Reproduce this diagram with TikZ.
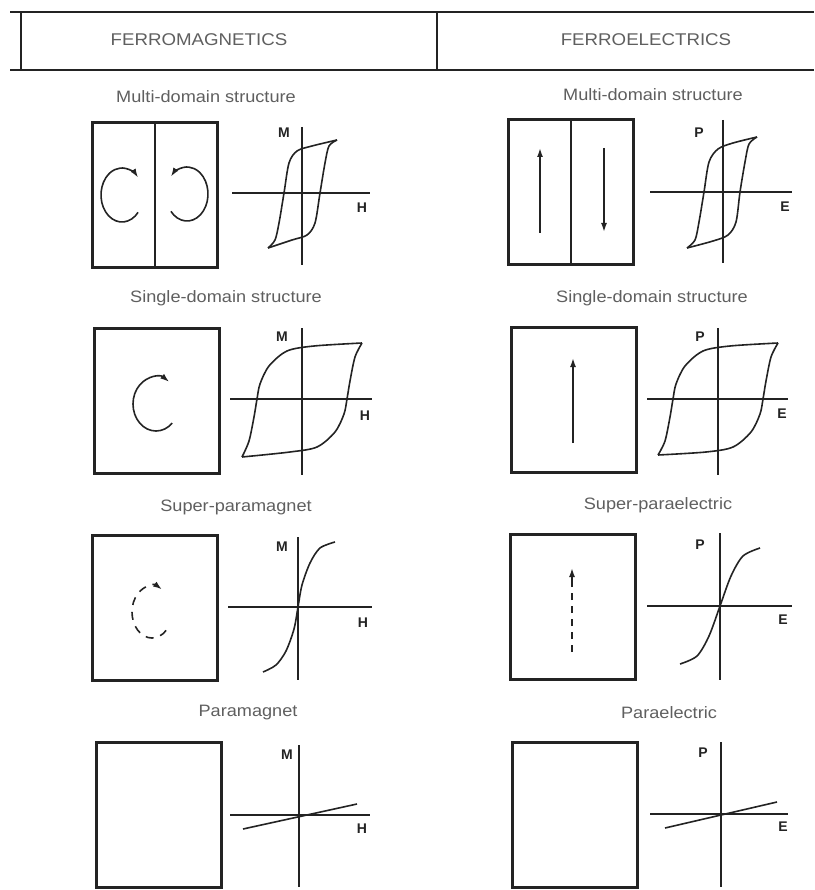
\documentclass[tikz,border=0pt]{standalone}
\usepackage{fontspec}
\setmainfont{Liberation Sans}
\newfontfamily\widefont[FakeStretch=1.1]{Liberation Sans}
\usetikzlibrary{arrows.meta, calc}
\definecolor{tinta}{RGB}{35, 35, 35}
\definecolor{grafite}{RGB}{95, 95, 95}

\begin{document}
\begin{tikzpicture}[
    x=1pt,
    y=-1pt,
    header/.style={
        font=\widefont\fontsize{17}{20}\selectfont,
        text=grafite
    },
    paneltitle/.style={
        font=\widefont\fontsize{16.5}{20}\selectfont,
        text=grafite
    },
    samplebox/.style={
        draw=tinta,
        line width=2.2pt,
        minimum width=125pt,
        minimum height=145pt,
        inner sep=0pt
    },
    axisline/.style={
        draw=tinta,
        line width=1.9pt
    },
    loopline/.style={
        draw=tinta,
        line width=1.6pt
    },
    axlabel/.style={
        font=\bfseries\fontsize{14}{16}\selectfont,
        text=tinta,
        inner sep=0pt
    },
    moment/.style={
        draw=tinta,
        line width=1.6pt,
        -{Latex[length=9pt, width=6pt]}
    },
    rule/.style={
        draw=tinta,
        line width=2.2pt
    }
]

\useasboundingbox (0,0) rectangle (814,890);

% =================================================
% CABECALHO
% =================================================

\draw[rule] (10,12) -- (814,12);
\draw[rule] (10,70) -- (814,70);
\draw[rule] (21,12) -- (21,70);
\draw[rule] (437,12) -- (437,70);

\node[header] (fmhead) at (199,40) {FERROMAGNETICS};
\node[header] (fehead) at (646,40) {FERROELECTRICS};


% =================================================
% LINHA 1 - MULTI-DOMAIN
% =================================================

\node[paneltitle] (fmtitle1) at (206,97) {Multi-domain structure};
\node[paneltitle] (fetitle1) at (653,95) {Multi-domain structure};

\node[samplebox] (fmbox1) at (155,195) {};
\draw[rule, line width=1.9pt] (fmbox1.north) -- (fmbox1.south);

% Circulacoes
\draw[moment]
    ($(122,195)+(40:21 and 27)$)
    arc[start angle=40, end angle=320, x radius=21, y radius=27];
\draw[moment]
    ($(187,194)+(140:21 and 27)$)
    arc[start angle=140, end angle=-140, x radius=21, y radius=27];

\begin{scope}[shift={(302,193)}]
    \draw[axisline] (0,-66) -- (0,72);
    \draw[axisline] (-70,0) -- (68,0);
    \node[axlabel] (fmM1) at (-18,-60) {M};
    \node[axlabel] (fmH1) at (60,15) {H};
    \draw[loopline] plot[smooth] coordinates
        {(35,-53) (10,-47) (-5,-42) (-13,-30) (-18,0) (-23,30) (-27,47) (-34,55)};
    \draw[loopline] plot[smooth] coordinates
        {(-34,55) (-10,47) (5,42) (13,30) (18,0) (23,-30) (27,-47) (35,-53)};
\end{scope}

\node[samplebox] (febox1) at (571,192) {};
\draw[rule, line width=1.9pt] (febox1.north) -- (febox1.south);

\coordinate (pup1a) at (540,233);
\coordinate (pup1b) at (540,148);
\coordinate (pdn1a) at (604,148);
\coordinate (pdn1b) at (604,232);
\draw[moment] (pup1a) -- (pup1b);
\draw[moment] (pdn1a) -- (pdn1b);

\begin{scope}[shift={(723,192)}]
    \draw[axisline] (0,-72) -- (0,71);
    \draw[axisline] (-73,0) -- (69,0);
    \node[axlabel] (feP1) at (-24,-59) {P};
    \node[axlabel] (feE1) at (62,15) {E};
    \draw[loopline] plot[smooth] coordinates
        {(34,-55) (10,-49) (-5,-43) (-14,-30) (-19,0) (-24,30) (-28,48) (-36,56)};
    \draw[loopline] plot[smooth] coordinates
        {(-36,56) (-10,49) (5,43) (13,30) (17,0) (22,-30) (26,-48) (34,-55)};
\end{scope}


% =================================================
% LINHA 2 - SINGLE-DOMAIN
% =================================================

\node[paneltitle] (fmtitle2) at (226,298) {Single-domain structure};
\node[paneltitle] (fetitle2) at (652,298) {Single-domain structure};

\node[samplebox] (fmbox2) at (157,401) {};

\draw[moment]
    ($(156,404)+(45:23 and 27)$)
    arc[start angle=45, end angle=305, x radius=23, y radius=27];

\begin{scope}[shift={(302,399)}]
    \draw[axisline] (0,-71) -- (0,76);
    \draw[axisline] (-72,0) -- (70,0);
    \node[axlabel] (fmM2) at (-20,-62) {M};
    \node[axlabel] (fmH2) at (63,17) {H};
    \draw[loopline] plot[smooth] coordinates
        {(60,-56) (12,-53) (-15,-48) (-33,-33) (-42,-15) (-45,0) (-48,18) (-53,42) (-60,58)};
    \draw[loopline] plot[smooth] coordinates
        {(-60,58) (-12,53) (15,48) (33,33) (42,15) (45,0) (48,-18) (53,-42) (60,-56)};
\end{scope}

\node[samplebox] (febox2) at (574,400) {};

\coordinate (pup2a) at (573,443);
\coordinate (pup2b) at (573,358);
\draw[moment] (pup2a) -- (pup2b);

\begin{scope}[shift={(718,399)}]
    \draw[axisline] (0,-71) -- (0,76);
    \draw[axisline] (-71,0) -- (70,0);
    \node[axlabel] (feP2) at (-18,-62) {P};
    \node[axlabel] (feE2) at (64,15) {E};
    \draw[loopline] plot[smooth] coordinates
        {(60,-56) (12,-53) (-15,-48) (-33,-33) (-42,-15) (-45,0) (-48,18) (-53,42) (-60,56)};
    \draw[loopline] plot[smooth] coordinates
        {(-60,56) (-12,53) (15,48) (33,33) (42,15) (45,0) (48,-18) (53,-42) (60,-56)};
\end{scope}


% =================================================
% LINHA 3 - SUPER-PARA
% =================================================

\node[paneltitle] (fmtitle3) at (236,507) {Super-paramagnet};
\node[paneltitle] (fetitle3) at (658,505) {Super-paraelectric};

\node[samplebox] (fmbox3) at (155,608) {};

\draw[moment, dash pattern=on 8pt off 7pt]
    ($(152,612)+(45:20 and 26)$)
    arc[start angle=45, end angle=300, x radius=20, y radius=26];

\begin{scope}[shift={(298,607)}]
    \draw[axisline] (0,-70) -- (0,73);
    \draw[axisline] (-70,0) -- (74,0);
    \node[axlabel] (fmM3) at (-16,-60) {M};
    \node[axlabel] (fmH3) at (65,16) {H};
    \draw[loopline] plot[smooth] coordinates
        {(-35,65) (-22,58) (-12,44) (-4,22) (0,0) (4,-22) (12,-44) (22,-59) (37,-65)};
\end{scope}

\node[samplebox] (febox3) at (573,607) {};

\coordinate (pup3a) at (572,652);
\coordinate (pup3b) at (572,586);
\coordinate (pup3c) at (572,568);
\draw[loopline, dash pattern=on 7pt off 6pt] (pup3a) -- (pup3b);
\draw[moment] (pup3b) -- (pup3c);

\begin{scope}[shift={(720,606)}]
    \draw[axisline] (0,-73) -- (0,74);
    \draw[axisline] (-73,0) -- (72,0);
    \node[axlabel] (feP3) at (-20,-61) {P};
    \node[axlabel] (feE3) at (63,14) {E};
    \draw[loopline] plot[smooth] coordinates
        {(-40,58) (-23,50) (-11,30) (0,0) (11,-30) (23,-50) (40,-58)};
\end{scope}


% =================================================
% LINHA 4 - PARA
% =================================================

\node[paneltitle] (fmtitle4) at (248,713) {Paramagnet};
\node[paneltitle] (fetitle4) at (669,713) {Paraelectric};

\node[samplebox] (fmbox4) at (159,815) {};

\begin{scope}[shift={(299,815)}]
    \draw[axisline] (0,-70) -- (0,72);
    \draw[axisline] (-69,0) -- (71,0);
    \node[axlabel] (fmM4) at (-12,-60) {M};
    \node[axlabel] (fmH4) at (63,14) {H};
    \draw[loopline] (-56,14) -- (58,-11);
\end{scope}

\node[samplebox] (febox4) at (575,815) {};

\begin{scope}[shift={(721,814)}]
    \draw[axisline] (0,-72) -- (0,73);
    \draw[axisline] (-71,0) -- (67,0);
    \node[axlabel] (feP4) at (-18,-61) {P};
    \node[axlabel] (feE4) at (62,13) {E};
    \draw[loopline] (-56,14) -- (56,-12);
\end{scope}

\end{tikzpicture}
\end{document}
